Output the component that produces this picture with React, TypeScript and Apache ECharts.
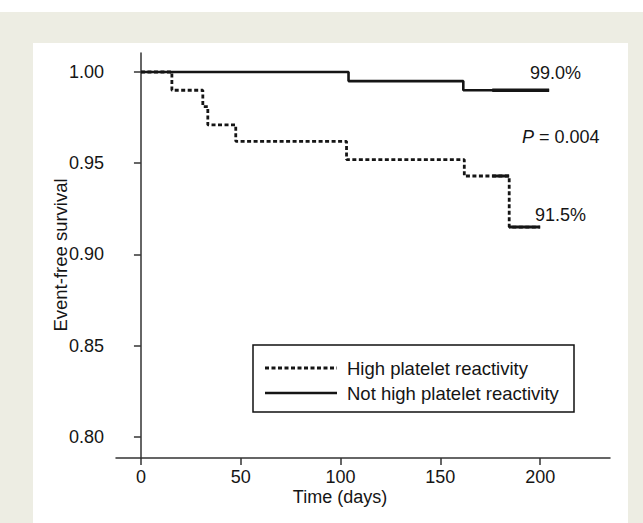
import React, { useEffect, useRef } from "react";
import * as echarts from "echarts";

// Kaplan–Meier curves: event times (days) and survival after each step
const highTimes = [0, 15.5, 31, 33.5, 47.5, 103, 162, 184.5, 200];
const highSurvival = [1.0, 0.99, 0.981, 0.971, 0.962, 0.952, 0.943, 0.915, 0.915];
const notHighTimes = [0, 104, 161.5, 204.5];
const notHighSurvival = [1.0, 0.995, 0.99, 0.99];

// stretches densely covered by censoring ticks (appear solid)
const highCensorTimesA = [176, 184.5];
const highCensorValueA = 0.943;
const highCensorTimesB = [184.5, 200];
const highCensorValueB = 0.915;
const notHighCensorTimes = [176, 204.5];
const notHighCensorValue = 0.99;

const xTicks = [0, 50, 100, 150, 200];
const yTicks = [0.8, 0.85, 0.9, 0.95, 1.0];
const seriesNames = ["High platelet reactivity", "Not high platelet reactivity"];
const endLabels = ["91.5%", "99.0%"];
const pValueText = "= 0.004";
const xTitle = "Time (days)";
const yTitle = "Event-free survival";

const FONT = "Liberation Sans, Arial, Helvetica, sans-serif";
const INK = "#151515";
const DOT: number[] = [4, 2.5];

export default function App() {
  const ref = useRef<HTMLDivElement>(null);
  useEffect(() => {
    if (!ref.current) return;
    const chart = echarts.init(ref.current, undefined, { renderer: "svg" });
    const pair = (ts: number[], vs: number[]) => ts.map((t, i) => [t, vs[i]]);
    const flat = (ts: number[], v: number) => ts.map((t) => [t, v]);
    const txt = (x: number, y: number, text: string, align: string, size = 18, extra: any = {}) => ({
      type: "text", z: 100, x, y, ...extra,
      style: { text, fontSize: size, fontFamily: FONT, fill: INK, align, verticalAlign: "middle" },
    });
    const option: any = {
      animation: false,
      backgroundColor: "#ffffff",
      textStyle: { fontFamily: FONT },
      grid: { left: 116, top: 53, width: 494, height: 405, containLabel: false },
      xAxis: {
        type: "value",
        min: -12.5,
        max: 235,
        axisLine: { show: true, lineStyle: { color: "#333", width: 1.5 } },
        axisTick: { show: true, customValues: xTicks, length: 7, lineStyle: { color: "#333", width: 1.5 } },
        axisLabel: { customValues: xTicks, fontSize: 18, color: INK, margin: 10, fontFamily: FONT },
        splitLine: { show: false },
      },
      yAxis: {
        type: "value",
        min: 0.7885,
        max: 1.0104,
        axisLine: { show: true, lineStyle: { color: "#333", width: 1.5 } },
        axisTick: { show: true, customValues: yTicks, length: 7, lineStyle: { color: "#333", width: 1.5 } },
        axisLabel: {
          customValues: yTicks,
          fontSize: 18,
          color: INK,
          margin: 12,
          fontFamily: FONT,
          formatter: (v: number) => v.toFixed(2),
        },
        splitLine: { show: false },
      },
      series: [
        {
          name: seriesNames[0],
          type: "line",
          step: "end",
          symbol: "none",
          data: pair(highTimes, highSurvival),
          lineStyle: { color: INK, width: 2.8, type: DOT },
        },
        {
          name: seriesNames[1],
          type: "line",
          step: "end",
          symbol: "none",
          data: pair(notHighTimes, notHighSurvival),
          lineStyle: { color: INK, width: 2.6, type: "solid" },
        },
        {
          name: "censorA",
          type: "line",
          symbol: "none",
          silent: true,
          data: flat(highCensorTimesA, highCensorValueA),
          lineStyle: { color: INK, width: 3, type: "solid" },
        },
        {
          name: "censorB",
          type: "line",
          symbol: "none",
          silent: true,
          data: flat(highCensorTimesB, highCensorValueB),
          lineStyle: { color: INK, width: 3, type: "solid" },
        },
        {
          name: "censorC",
          type: "line",
          symbol: "none",
          silent: true,
          data: flat(notHighCensorTimes, notHighCensorValue),
          lineStyle: { color: INK, width: 3.4, type: "solid" },
        },
      ],
      graphic: {
        elements: [
          { type: "rect", z: -100, silent: true, shape: { x: 0, y: 12, width: 643, height: 511 }, style: { fill: "#EDEDE3" } },
          { type: "rect", z: -99, silent: true, shape: { x: 33, y: 43, width: 595, height: 480 }, style: { fill: "#ffffff" } },
          // legend
          { type: "rect", z: 90, shape: { x: 253, y: 345, width: 321, height: 67 }, style: { fill: "#fff", stroke: "#111", lineWidth: 1.5 } },
          { type: "line", z: 95, shape: { x1: 265, y1: 368, x2: 337, y2: 368 }, style: { stroke: INK, lineWidth: 2.8, lineDash: DOT } },
          { type: "line", z: 95, shape: { x1: 265, y1: 393, x2: 337, y2: 393 }, style: { stroke: INK, lineWidth: 2.6 } },
          txt(347, 368, seriesNames[0], "left", 18.5),
          txt(347, 393, seriesNames[1], "left", 18.5),
          // annotations
          txt(530, 73, endLabels[1], "left"),
          {
            type: "text", z: 100, x: 522, y: 137,
            style: {
              text: "{i|P} " + pValueText,
              fontSize: 18, fontFamily: FONT, fill: INK, align: "left", verticalAlign: "middle",
              rich: { i: { fontStyle: "italic", fontSize: 18, fontFamily: FONT, fill: INK } },
            },
          },
          txt(535, 215, endLabels[0], "left"),
          txt(340, 497, xTitle, "center"),
          txt(60, 255, yTitle, "center", 18.5, { rotation: Math.PI / 2 }),
        ],
      },
    };
    chart.setOption(option);
    return () => chart.dispose();
  }, []);
  return (
    <div
      ref={ref}
      style={{ position: "absolute", left: 0, top: 0, width: 643, height: 523 }}
    />
  );
}
